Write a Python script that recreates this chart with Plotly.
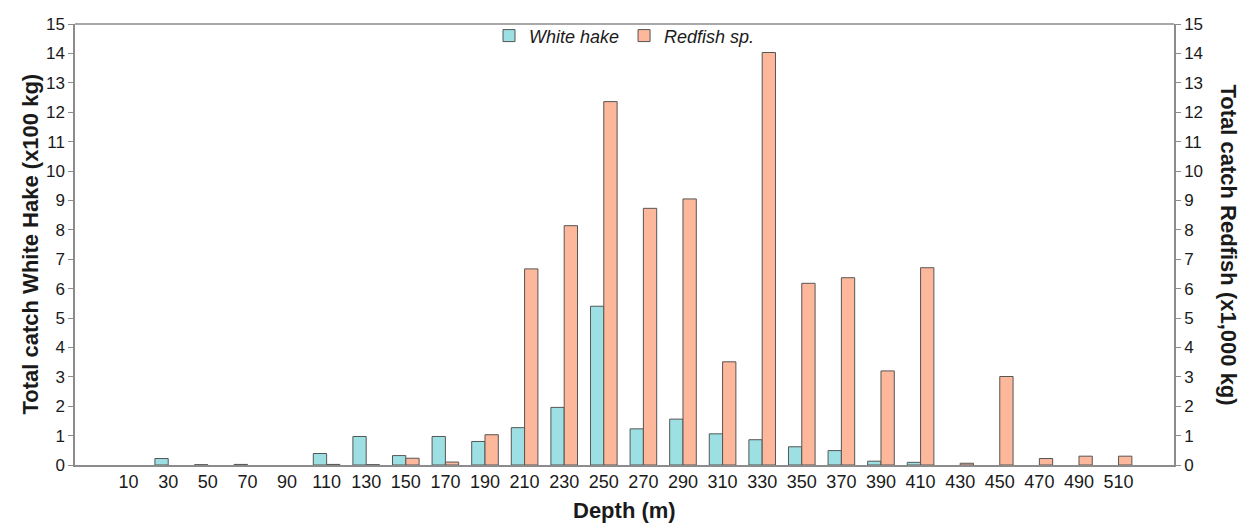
import plotly.graph_objects as go

depths = ["10", "30", "50", "70", "90", "110", "130", "150", "170", "190", "210", "230", "250",
          "270", "290", "310", "330", "350", "370", "390", "410", "430", "450", "470", "490", "510"]
white_hake = [None, 0.22, 0.01, 0.02, None, 0.39, 0.97, 0.32, 0.97, 0.80, 1.27, 1.96, 5.40,
              1.23, 1.56, 1.06, 0.86, 0.62, 0.49, 0.13, 0.09, None, None, None, None, None]
redfish = [None, None, None, None, None, 0.02, 0.01, 0.23, 0.10, 1.03, 6.67, 8.14, 12.36,
           8.73, 9.05, 3.51, 14.03, 6.18, 6.37, 3.20, 6.71, 0.06, 3.01, 0.22, 0.30, 0.30]
y_ticks = list(range(0, 16))

FONT = "Liberation Sans, Arial, sans-serif"
AXIS_COLOR = "#8c8c8c"
TEXT = "#1a1a1a"

fig = go.Figure()
fig.add_trace(go.Bar(
    x=depths, y=white_hake, name="<i>White hake</i>",
    marker=dict(color="#9ce0e4", line=dict(color="#555555", width=1)),
    width=0.336, offset=-0.336, yaxis="y",
))
fig.add_trace(go.Bar(
    x=depths, y=redfish, name="<i>Redfish sp.</i>",
    marker=dict(color="#fdb89c", line=dict(color="#555555", width=1)),
    width=0.336, offset=0, yaxis="y2",
))

fig.update_layout(
    width=1241, height=519,
    margin=dict(l=67, r=75, t=7, b=62),
    paper_bgcolor="white", plot_bgcolor="white",
    font=dict(family=FONT, color=TEXT, size=16),
    showlegend=True,
    legend=dict(orientation="h", x=0.5, xanchor="center", y=1.015, yanchor="top",
                font=dict(size=18, family=FONT), bgcolor="rgba(0,0,0,0)",
                itemwidth=30),
    xaxis=dict(
        type="category", range=[-1.354, 26.4],
        showline=True, linecolor=AXIS_COLOR, linewidth=1.5, mirror=False,
        ticks="", tickfont=dict(size=18), showgrid=False, zeroline=False,
    ),
    yaxis=dict(
        range=[0, 15], tickvals=y_ticks, showline=True, linecolor=AXIS_COLOR, linewidth=1.5,
        ticks="outside", ticklen=5, tickcolor=AXIS_COLOR, tickfont=dict(size=17),
        ticklabeloverflow="allow", showgrid=False, zeroline=False,
    ),
    yaxis2=dict(
        range=[0, 15], tickvals=y_ticks, overlaying="y", side="right",
        showline=True, linecolor=AXIS_COLOR, linewidth=1.5,
        ticks="outside", ticklen=5, tickcolor=AXIS_COLOR, tickfont=dict(size=17),
        ticklabeloverflow="allow", showgrid=False, zeroline=False,
    ),
    shapes=[dict(type="line", xref="paper", yref="paper", x0=0, x1=1, y0=1, y1=1,
                 line=dict(color=AXIS_COLOR, width=1.5))],
    annotations=[
        dict(text="<b>Total catch White Hake (x100 kg)</b>", xref="paper", yref="paper",
             x=0.0, xshift=-45, xanchor="center", y=0.5, yanchor="middle",
             textangle=-90, showarrow=False, font=dict(size=22, family=FONT, color=TEXT)),
        dict(text="<b>Total catch Redfish (x1,000 kg)</b>", xref="paper", yref="paper",
             x=1.0, xshift=54, xanchor="center", y=0.5, yanchor="middle",
             textangle=90, showarrow=False, font=dict(size=22, family=FONT, color=TEXT)),
        dict(text="<b>Depth (m)</b>", xref="paper", yref="paper",
             x=0.5, xanchor="center", y=0.0, yshift=-45, yanchor="middle",
             showarrow=False, font=dict(size=22, family=FONT, color=TEXT)),
    ],
)

fig.write_html("out.html")
